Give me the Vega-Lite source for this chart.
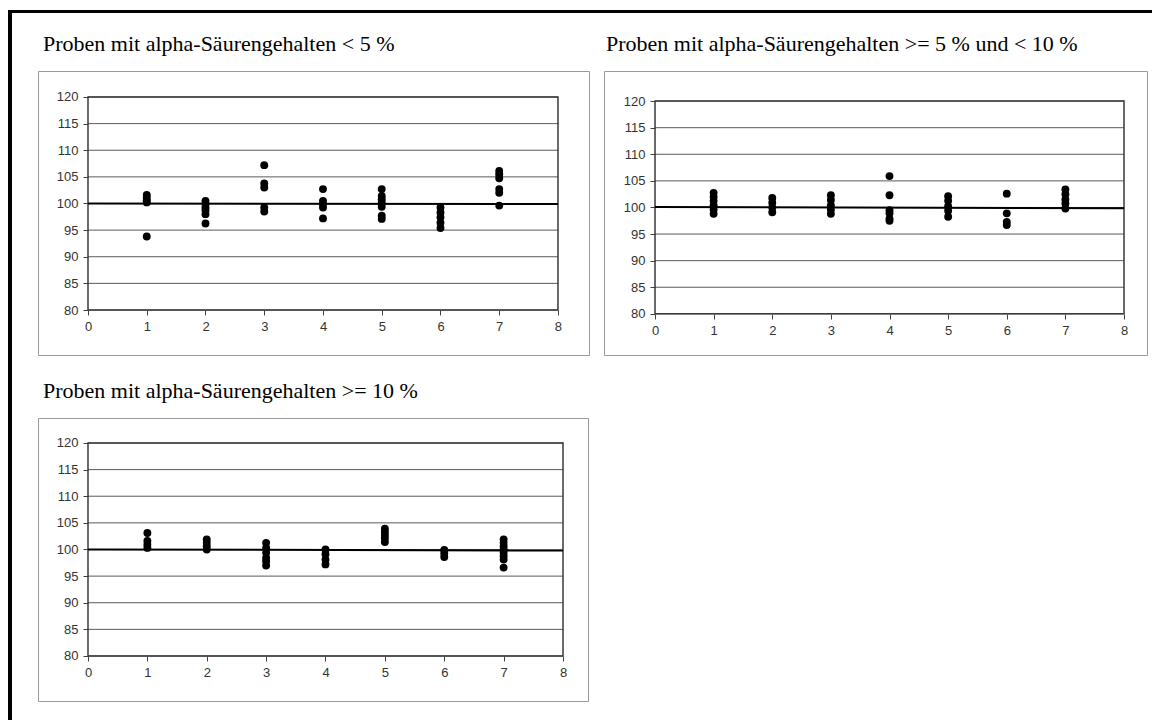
{
  "$schema": "https://vega.github.io/schema/vega-lite/v6.json",
  "background": "white",
  "padding": {"left": 8, "top": 10, "right": 0, "bottom": 0},
  "config": {
    "view": {"stroke": null},
    "title": {"font": "Liberation Serif", "fontSize": 22, "fontWeight": "normal", "color": "black", "anchor": "start", "frame": "group"},
    "axis": {"labelFont": "Liberation Sans", "labelFontSize": 13, "labelColor": "#333333", "tickColor": "#404040", "tickSize": 5, "labelPadding": 5, "domain": false, "grid": false, "title": null, "labelFlush": false, "labelOverlap": false, "labelBound": false, "format": "d"}
  },
  "datasets": {
    "levels": [{"v": 80}, {"v": 85}, {"v": 90}, {"v": 95}, {"v": 100}, {"v": 105}, {"v": 110}, {"v": 115}, {"v": 120}],
    "ref": [
      {"panel": 1, "x": 0, "y": 100.0}, {"panel": 1, "x": 8, "y": 99.9},
      {"panel": 2, "x": 0, "y": 100.1}, {"panel": 2, "x": 8, "y": 99.85},
      {"panel": 3, "x": 0, "y": 100.0}, {"panel": 3, "x": 8, "y": 99.8}
    ],
    "points": [
      {"panel": 1, "probe": 1, "wert": 101.6}, {"panel": 1, "probe": 1, "wert": 101.1}, {"panel": 1, "probe": 1, "wert": 100.6}, {"panel": 1, "probe": 1, "wert": 100.2}, {"panel": 1, "probe": 1, "wert": 93.8},
      {"panel": 1, "probe": 2, "wert": 100.5}, {"panel": 1, "probe": 2, "wert": 99.9}, {"panel": 1, "probe": 2, "wert": 99.25}, {"panel": 1, "probe": 2, "wert": 98.75}, {"panel": 1, "probe": 2, "wert": 98.0}, {"panel": 1, "probe": 2, "wert": 96.25},
      {"panel": 1, "probe": 3, "wert": 107.2}, {"panel": 1, "probe": 3, "wert": 103.75}, {"panel": 1, "probe": 3, "wert": 103.0}, {"panel": 1, "probe": 3, "wert": 99.25}, {"panel": 1, "probe": 3, "wert": 98.5},
      {"panel": 1, "probe": 4, "wert": 102.7}, {"panel": 1, "probe": 4, "wert": 100.5}, {"panel": 1, "probe": 4, "wert": 99.9}, {"panel": 1, "probe": 4, "wert": 99.25}, {"panel": 1, "probe": 4, "wert": 97.2},
      {"panel": 1, "probe": 5, "wert": 102.7}, {"panel": 1, "probe": 5, "wert": 101.4}, {"panel": 1, "probe": 5, "wert": 100.8}, {"panel": 1, "probe": 5, "wert": 100.2}, {"panel": 1, "probe": 5, "wert": 99.4}, {"panel": 1, "probe": 5, "wert": 97.7}, {"panel": 1, "probe": 5, "wert": 97.1},
      {"panel": 1, "probe": 6, "wert": 99.25}, {"panel": 1, "probe": 6, "wert": 98.3}, {"panel": 1, "probe": 6, "wert": 97.4}, {"panel": 1, "probe": 6, "wert": 96.4}, {"panel": 1, "probe": 6, "wert": 95.4},
      {"panel": 1, "probe": 7, "wert": 106.1}, {"panel": 1, "probe": 7, "wert": 105.5}, {"panel": 1, "probe": 7, "wert": 104.75}, {"panel": 1, "probe": 7, "wert": 102.7}, {"panel": 1, "probe": 7, "wert": 102.0}, {"panel": 1, "probe": 7, "wert": 99.6},
      {"panel": 2, "probe": 1, "wert": 102.75}, {"panel": 2, "probe": 1, "wert": 102.0}, {"panel": 2, "probe": 1, "wert": 101.25}, {"panel": 2, "probe": 1, "wert": 100.4}, {"panel": 2, "probe": 1, "wert": 99.6}, {"panel": 2, "probe": 1, "wert": 98.8},
      {"panel": 2, "probe": 2, "wert": 101.8}, {"panel": 2, "probe": 2, "wert": 100.9}, {"panel": 2, "probe": 2, "wert": 100.0}, {"panel": 2, "probe": 2, "wert": 99.1},
      {"panel": 2, "probe": 3, "wert": 102.3}, {"panel": 2, "probe": 3, "wert": 101.4}, {"panel": 2, "probe": 3, "wert": 100.4}, {"panel": 2, "probe": 3, "wert": 99.6}, {"panel": 2, "probe": 3, "wert": 98.8},
      {"panel": 2, "probe": 4, "wert": 105.9}, {"panel": 2, "probe": 4, "wert": 102.3}, {"panel": 2, "probe": 4, "wert": 99.5}, {"panel": 2, "probe": 4, "wert": 98.9}, {"panel": 2, "probe": 4, "wert": 97.9}, {"panel": 2, "probe": 4, "wert": 97.5},
      {"panel": 2, "probe": 5, "wert": 102.1}, {"panel": 2, "probe": 5, "wert": 101.25}, {"panel": 2, "probe": 5, "wert": 100.25}, {"panel": 2, "probe": 5, "wert": 99.4}, {"panel": 2, "probe": 5, "wert": 98.25},
      {"panel": 2, "probe": 6, "wert": 102.6}, {"panel": 2, "probe": 6, "wert": 98.9}, {"panel": 2, "probe": 6, "wert": 97.3}, {"panel": 2, "probe": 6, "wert": 96.7},
      {"panel": 2, "probe": 7, "wert": 103.4}, {"panel": 2, "probe": 7, "wert": 102.5}, {"panel": 2, "probe": 7, "wert": 101.5}, {"panel": 2, "probe": 7, "wert": 100.75}, {"panel": 2, "probe": 7, "wert": 99.8},
      {"panel": 3, "probe": 1, "wert": 103.1}, {"panel": 3, "probe": 1, "wert": 101.6}, {"panel": 3, "probe": 1, "wert": 100.9}, {"panel": 3, "probe": 1, "wert": 100.3},
      {"panel": 3, "probe": 2, "wert": 101.9}, {"panel": 3, "probe": 2, "wert": 101.25}, {"panel": 3, "probe": 2, "wert": 100.6}, {"panel": 3, "probe": 2, "wert": 100.0},
      {"panel": 3, "probe": 3, "wert": 101.25}, {"panel": 3, "probe": 3, "wert": 100.3}, {"panel": 3, "probe": 3, "wert": 99.4}, {"panel": 3, "probe": 3, "wert": 98.4}, {"panel": 3, "probe": 3, "wert": 97.8}, {"panel": 3, "probe": 3, "wert": 97.0},
      {"panel": 3, "probe": 4, "wert": 100.0}, {"panel": 3, "probe": 4, "wert": 99.1}, {"panel": 3, "probe": 4, "wert": 98.1}, {"panel": 3, "probe": 4, "wert": 97.2},
      {"panel": 3, "probe": 5, "wert": 103.9}, {"panel": 3, "probe": 5, "wert": 103.3}, {"panel": 3, "probe": 5, "wert": 102.7}, {"panel": 3, "probe": 5, "wert": 102.1}, {"panel": 3, "probe": 5, "wert": 101.4},
      {"panel": 3, "probe": 6, "wert": 99.9}, {"panel": 3, "probe": 6, "wert": 99.3}, {"panel": 3, "probe": 6, "wert": 98.6},
      {"panel": 3, "probe": 7, "wert": 101.9}, {"panel": 3, "probe": 7, "wert": 101.25}, {"panel": 3, "probe": 7, "wert": 100.6}, {"panel": 3, "probe": 7, "wert": 100.0}, {"panel": 3, "probe": 7, "wert": 99.4}, {"panel": 3, "probe": 7, "wert": 98.75}, {"panel": 3, "probe": 7, "wert": 98.1}, {"panel": 3, "probe": 7, "wert": 96.6}
    ]
  },
  "spacing": 0,
  "vconcat": [
    {"width": 1144, "height": 3, "view": {"fill": "black", "stroke": null}, "data": {"values": []}, "mark": "point"},
    {
      "spacing": 25,
      "hconcat": [
        {"width": 4, "height": 707, "view": {"fill": "black", "stroke": null}, "data": {"values": []}, "mark": "point"},
        {
          "spacing": 18,
          "vconcat": [
            {"width": 1, "height": 1, "data": {"values": []}, "mark": "point"},
            {
              "spacing": 23,
              "vconcat": [
                {
                  "spacing": 13,
                  "hconcat": [
                    {
                      "width": 551, "height": 284,
                      "view": {"stroke": "#9a9a9a", "strokeWidth": 1},
                      "title": {"text": "Proben mit alpha-Säurengehalten < 5 %", "dx": 5, "offset": 15},
                      "layer": [
                        {"data": {"name": "levels"}, "mark": {"type": "rule", "color": "#5a5a5a", "strokeWidth": 1},
                         "encoding": {
                           "y": {"field": "v", "type": "quantitative", "scale": {"domain": [71.55, 124.88], "nice": false, "zero": false}, "axis": {"orient": "left", "offset": -50, "values": [80, 85, 90, 95, 100, 105, 110, 115, 120], "format": "d", "labelOverlap": false}},
                           "x": {"datum": 0, "type": "quantitative", "scale": {"domain": [-0.851, 8.528], "nice": false, "zero": false}, "axis": {"orient": "bottom", "offset": -45, "values": [0, 1, 2, 3, 4, 5, 6, 7, 8], "format": "d", "labelOverlap": false}},
                           "x2": {"datum": 8}}},
                        {"data": {"values": [{}]}, "mark": {"type": "rect", "fill": null, "stroke": "#3a3a3a", "strokeWidth": 1.5},
                         "encoding": {
                           "x": {"datum": 0, "type": "quantitative", "axis": {"orient": "bottom", "offset": -45, "values": [0, 1, 2, 3, 4, 5, 6, 7, 8], "format": "d", "labelOverlap": false}},
                           "x2": {"datum": 8},
                           "y": {"datum": 80, "type": "quantitative", "axis": {"orient": "left", "offset": -50, "values": [80, 85, 90, 95, 100, 105, 110, 115, 120], "format": "d", "labelOverlap": false}},
                           "y2": {"datum": 120}}},
                        {"data": {"name": "ref"}, "transform": [{"filter": "datum.panel == 1"}], "mark": {"type": "line", "color": "black", "strokeWidth": 2},
                         "encoding": {
                           "x": {"field": "x", "type": "quantitative", "axis": {"orient": "bottom", "offset": -45, "values": [0, 1, 2, 3, 4, 5, 6, 7, 8], "format": "d", "labelOverlap": false}},
                           "y": {"field": "y", "type": "quantitative", "axis": {"orient": "left", "offset": -50, "values": [80, 85, 90, 95, 100, 105, 110, 115, 120], "format": "d", "labelOverlap": false}}}},
                        {"data": {"name": "points"}, "transform": [{"filter": "datum.panel == 1"}], "mark": {"type": "circle", "color": "black", "size": 62, "opacity": 1},
                         "encoding": {
                           "x": {"field": "probe", "type": "quantitative", "axis": {"orient": "bottom", "offset": -45, "values": [0, 1, 2, 3, 4, 5, 6, 7, 8], "format": "d", "labelOverlap": false}},
                           "y": {"field": "wert", "type": "quantitative", "axis": {"orient": "left", "offset": -50, "values": [80, 85, 90, 95, 100, 105, 110, 115, 120], "format": "d", "labelOverlap": false}}}}
                      ]
                    },
                    {
                      "width": 543, "height": 284,
                      "view": {"stroke": "#9a9a9a", "strokeWidth": 1},
                      "title": {"text": "Proben mit alpha-Säurengehalten >= 5 % und < 10 %", "dx": 2, "offset": 15},
                      "layer": [
                        {"data": {"name": "levels"}, "mark": {"type": "rule", "color": "#5a5a5a", "strokeWidth": 1},
                         "encoding": {
                           "y": {"field": "v", "type": "quantitative", "scale": {"domain": [72.26, 125.66], "nice": false, "zero": false}, "axis": {"orient": "left", "offset": -51, "values": [80, 85, 90, 95, 100, 105, 110, 115, 120], "format": "d", "labelOverlap": false}},
                           "x": {"datum": 0, "type": "quantitative", "scale": {"domain": [-0.870, 8.392], "nice": false, "zero": false}, "axis": {"orient": "bottom", "offset": -41, "values": [0, 1, 2, 3, 4, 5, 6, 7, 8], "format": "d", "labelOverlap": false}},
                           "x2": {"datum": 8}}},
                        {"data": {"values": [{}]}, "mark": {"type": "rect", "fill": null, "stroke": "#3a3a3a", "strokeWidth": 1.5},
                         "encoding": {
                           "x": {"datum": 0, "type": "quantitative", "axis": {"orient": "bottom", "offset": -41, "values": [0, 1, 2, 3, 4, 5, 6, 7, 8], "format": "d", "labelOverlap": false}},
                           "x2": {"datum": 8},
                           "y": {"datum": 80, "type": "quantitative", "axis": {"orient": "left", "offset": -51, "values": [80, 85, 90, 95, 100, 105, 110, 115, 120], "format": "d", "labelOverlap": false}},
                           "y2": {"datum": 120}}},
                        {"data": {"name": "ref"}, "transform": [{"filter": "datum.panel == 2"}], "mark": {"type": "line", "color": "black", "strokeWidth": 2},
                         "encoding": {
                           "x": {"field": "x", "type": "quantitative", "axis": {"orient": "bottom", "offset": -41, "values": [0, 1, 2, 3, 4, 5, 6, 7, 8], "format": "d", "labelOverlap": false}},
                           "y": {"field": "y", "type": "quantitative", "axis": {"orient": "left", "offset": -51, "values": [80, 85, 90, 95, 100, 105, 110, 115, 120], "format": "d", "labelOverlap": false}}}},
                        {"data": {"name": "points"}, "transform": [{"filter": "datum.panel == 2"}], "mark": {"type": "circle", "color": "black", "size": 62, "opacity": 1},
                         "encoding": {
                           "x": {"field": "probe", "type": "quantitative", "axis": {"orient": "bottom", "offset": -41, "values": [0, 1, 2, 3, 4, 5, 6, 7, 8], "format": "d", "labelOverlap": false}},
                           "y": {"field": "wert", "type": "quantitative", "axis": {"orient": "left", "offset": -51, "values": [80, 85, 90, 95, 100, 105, 110, 115, 120], "format": "d", "labelOverlap": false}}}}
                      ]
                    }
                  ]
                },
                {
                  "width": 550, "height": 283,
                  "view": {"stroke": "#9a9a9a", "strokeWidth": 1},
                  "title": {"text": "Proben mit alpha-Säurengehalten >= 10 %", "dx": 5, "offset": 15},
                  "layer": [
                    {"data": {"name": "levels"}, "mark": {"type": "rule", "color": "#5a5a5a", "strokeWidth": 1},
                     "encoding": {
                       "y": {"field": "v", "type": "quantitative", "scale": {"domain": [71.55, 124.69], "nice": false, "zero": false}, "axis": {"orient": "left", "offset": -50, "values": [80, 85, 90, 95, 100, 105, 110, 115, 120], "format": "d", "labelOverlap": false}},
                       "x": {"datum": 0, "type": "quantitative", "scale": {"domain": [-0.842, 8.421], "nice": false, "zero": false}, "axis": {"orient": "bottom", "offset": -45, "values": [0, 1, 2, 3, 4, 5, 6, 7, 8], "format": "d", "labelOverlap": false}},
                       "x2": {"datum": 8}}},
                    {"data": {"values": [{}]}, "mark": {"type": "rect", "fill": null, "stroke": "#3a3a3a", "strokeWidth": 1.5},
                     "encoding": {
                       "x": {"datum": 0, "type": "quantitative", "axis": {"orient": "bottom", "offset": -45, "values": [0, 1, 2, 3, 4, 5, 6, 7, 8], "format": "d", "labelOverlap": false}},
                       "x2": {"datum": 8},
                       "y": {"datum": 80, "type": "quantitative", "axis": {"orient": "left", "offset": -50, "values": [80, 85, 90, 95, 100, 105, 110, 115, 120], "format": "d", "labelOverlap": false}},
                       "y2": {"datum": 120}}},
                    {"data": {"name": "ref"}, "transform": [{"filter": "datum.panel == 3"}], "mark": {"type": "line", "color": "black", "strokeWidth": 2},
                     "encoding": {
                       "x": {"field": "x", "type": "quantitative", "axis": {"orient": "bottom", "offset": -45, "values": [0, 1, 2, 3, 4, 5, 6, 7, 8], "format": "d", "labelOverlap": false}},
                       "y": {"field": "y", "type": "quantitative", "axis": {"orient": "left", "offset": -50, "values": [80, 85, 90, 95, 100, 105, 110, 115, 120], "format": "d", "labelOverlap": false}}}},
                    {"data": {"name": "points"}, "transform": [{"filter": "datum.panel == 3"}], "mark": {"type": "circle", "color": "black", "size": 62, "opacity": 1},
                     "encoding": {
                       "x": {"field": "probe", "type": "quantitative", "axis": {"orient": "bottom", "offset": -45, "values": [0, 1, 2, 3, 4, 5, 6, 7, 8], "format": "d", "labelOverlap": false}},
                       "y": {"field": "wert", "type": "quantitative", "axis": {"orient": "left", "offset": -50, "values": [80, 85, 90, 95, 100, 105, 110, 115, 120], "format": "d", "labelOverlap": false}}}}
                  ]
                }
              ]
            }
          ]
        }
      ]
    }
  ]
}
